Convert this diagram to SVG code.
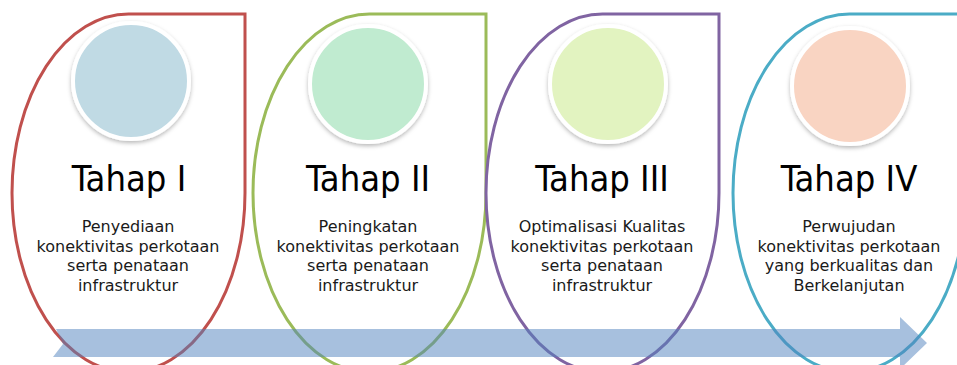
<svg xmlns="http://www.w3.org/2000/svg" width="957" height="365" viewBox="0 0 957 365">
<defs>
<filter id="sh" x="-20%" y="-20%" width="140%" height="150%">
<feDropShadow dx="0" dy="2" stdDeviation="2" flood-color="#000" flood-opacity="0.28"/>
</filter>
</defs>
<style>
.drop{fill:#fff;stroke-width:3;stroke-linejoin:miter}
.disc{stroke:#fff;stroke-width:4;filter:url(#sh)}
.title{font-family:"DejaVu Sans Condensed","DejaVu Sans",sans-serif;font-stretch:condensed;font-size:36px;fill:#000;text-anchor:middle}
.body{font-family:"DejaVu Sans",sans-serif;font-size:16px;fill:#1a1a1a;text-anchor:middle}
.arrow{fill:#4f81bd;fill-opacity:0.5}
</style>
<rect width="957" height="365" fill="#fff"/>
<g id="stage1">
<path class="drop" stroke="#c0504d" d="M128.5,14 L245,14 L245,193 A116.5,179 0 0 1 128.5,372 A116.5,179 0 0 1 12,193 A116.5,179 0 0 1 128.5,14 Z"/>
<circle class="disc" cx="131" cy="81" r="58" fill="#c0dae4"/>
<text class="title" x="129" y="191">Tahap I</text>
<text class="body" x="128"><tspan x="128" y="232">Penyediaan</tspan><tspan x="128" y="251.5">konektivitas perkotaan</tspan><tspan x="128" y="271">serta penataan</tspan><tspan x="128" y="290.5">infrastruktur</tspan></text>
</g>
<g id="stage2">
<path class="drop" stroke="#9bbb59" d="M369.5,14 L486,14 L486,193 A116.5,179 0 0 1 369.5,372 A116.5,179 0 0 1 253,193 A116.5,179 0 0 1 369.5,14 Z"/>
<circle class="disc" cx="368" cy="84" r="58" fill="#c0ebd0"/>
<text class="title" x="368" y="191">Tahap II</text>
<text class="body" x="368"><tspan x="368" y="232">Peningkatan</tspan><tspan x="368" y="251.5">konektivitas perkotaan</tspan><tspan x="368" y="271">serta penataan</tspan><tspan x="368" y="290.5">infrastruktur</tspan></text>
</g>
<g id="stage3">
<path class="drop" stroke="#8064a2" d="M602.5,14 L719,14 L719,193 A116.5,179 0 0 1 602.5,372 A116.5,179 0 0 1 486,193 A116.5,179 0 0 1 602.5,14 Z"/>
<circle class="disc" cx="608" cy="84" r="58" fill="#e2f3c0"/>
<text class="title" x="602" y="191">Tahap III</text>
<text class="body" x="602"><tspan x="602" y="232">Optimalisasi Kualitas</tspan><tspan x="602" y="251.5">konektivitas perkotaan</tspan><tspan x="602" y="271">serta penataan</tspan><tspan x="602" y="290.5">infrastruktur</tspan></text>
</g>
<g id="stage4">
<path class="drop" stroke="#4bacc6" d="M849.5,14 L966,14 L966,193 A116.5,179 0 0 1 849.5,372 A116.5,179 0 0 1 733,193 A116.5,179 0 0 1 849.5,14 Z"/>
<circle class="disc" cx="850" cy="86" r="58" fill="#f9d4c2"/>
<text class="title" x="849" y="191">Tahap IV</text>
<text class="body" x="849"><tspan x="849" y="232">Perwujudan</tspan><tspan x="849" y="251.5">konektivitas perkotaan</tspan><tspan x="849" y="271">yang berkualitas dan</tspan><tspan x="849" y="290.5">Berkelanjutan</tspan></text>
</g>
<g id="connectors">
<polygon class="arrow" points="56,329 900,329 900,317 927,343 900,369 900,357 53,357 63,344"/>
</g>
</svg>
